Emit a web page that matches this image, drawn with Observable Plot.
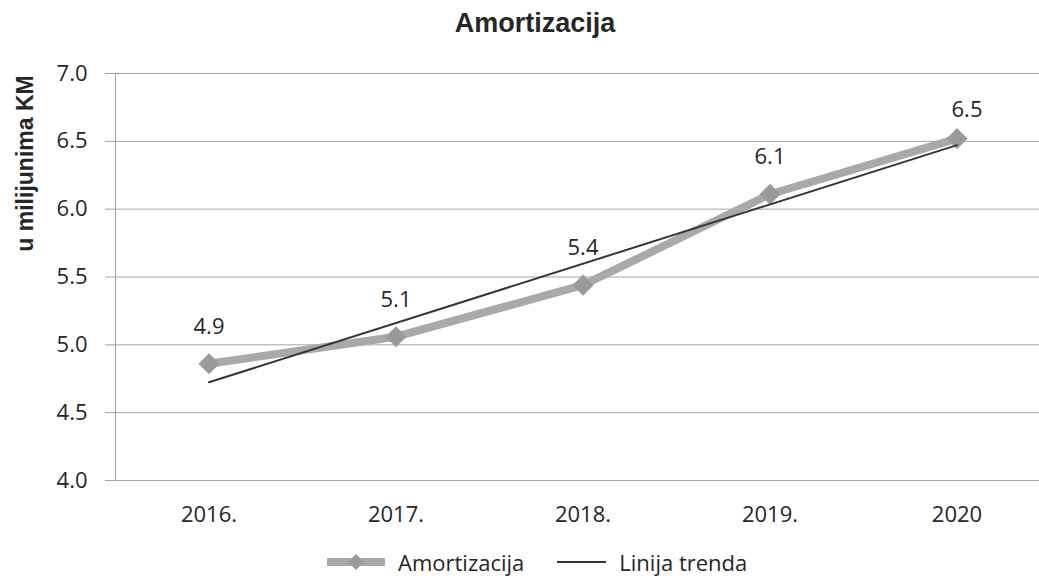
<!DOCTYPE html>
<html>
<head>
<meta charset="utf-8">
<script src="https://cdn.jsdelivr.net/npm/d3@7"></script>
<script src="https://cdn.jsdelivr.net/npm/@observablehq/plot@0.6"></script>
<style>
  html, body { margin: 0; padding: 0; background: #fff; overflow: hidden; }
  #wrap { position: relative; width: 1039px; height: 579px; overflow: hidden; }
  #title { position: absolute; left: 0; top: 7px; width: 1070px; text-align: center;
           font: bold 27px "Liberation Sans", Arial, sans-serif; line-height: 32px; color: #262626; }
  #chart { position: absolute; left: 0; top: 50px; }
  #legend { position: absolute; left: 327px; top: 550px; height: 24px; display: flex; align-items: center;
            font: 22px "Open Sans", sans-serif; line-height: 24px; color: #262626; white-space: nowrap; }
  #legend svg { display: block; }
</style>
</head>
<body>
<div id="wrap">
  <div id="title">Amortizacija</div>
  <div id="chart"></div>
  <div id="legend"></div>
</div>
<script>
const title = "Amortizacija";
const yLabel = "u milijunima KM";
const years = ["2016.", "2017.", "2018.", "2019.", "2020"];
const values = [4.86, 5.06, 5.44, 6.11, 6.52];
const yTicks = [4.0, 4.5, 5.0, 5.5, 6.0, 6.5, 7.0];
const seriesName = "Amortizacija";
const trendName = "Linija trenda";

const rows = years.map((year, i) => ({i, year, value: values[i]}));
const idx = years.map((_, i) => i);
const fmt = d3.format(".1f");

const gridColor = "#a3a3a3";
const lineColor = "#a9a9a9";
const markerColor = "#9a9a9a";
const trendColor = "#353535";

const plot = Plot.plot({
  width: 1039,
  height: 480,
  marginTop: 23,
  marginBottom: 50,
  marginLeft: 115,
  marginRight: 0,
  style: {fontFamily: "'Open Sans', sans-serif", fontSize: "22px", color: "#262626", background: "transparent"},
  x: {type: "linear", domain: [-0.5, years.length - 0.5], range: [115, 1050]},
  y: {domain: [4, 7]},
  marks: [
    Plot.ruleY(yTicks, {stroke: gridColor, strokeWidth: 1, insetLeft: -10}),
    Plot.ruleX([-0.5], {stroke: gridColor, strokeWidth: 1}),
    Plot.axisY({ticks: yTicks, tickFormat: fmt, tickSize: 0, tickPadding: 28, label: null}),
    Plot.axisX({ticks: idx, tickFormat: i => years[i], tickSize: 0, tickPadding: 26, label: null}),
    Plot.lineY(rows, {x: "i", y: "value", stroke: lineColor, strokeWidth: 8, strokeLinejoin: "round"}),
    Plot.dot(rows, {x: "i", y: "value", symbol: "diamond2", r: 9.5, fill: markerColor, stroke: null}),
    Plot.linearRegressionY(rows, {x: "i", y: "value", stroke: trendColor, strokeWidth: 2, ci: 0}),
    Plot.text(rows.slice(0, 4), {x: "i", y: "value", text: d => fmt(d.value), dy: -37, fill: "#262626"}),
    Plot.text(rows.slice(4), {x: "i", y: "value", text: d => fmt(d.value), dx: 10, dy: -29, fill: "#262626"}),
    Plot.text([yLabel], {frameAnchor: "top-left", dx: -90, dy: 90, rotate: -90, textAnchor: "middle", lineAnchor: "middle",
      fontFamily: "'Liberation Sans', Arial, sans-serif", fontWeight: "bold", fontSize: 23, fill: "#262626"})
  ]
});
document.getElementById("chart").appendChild(plot);
document.getElementById("title").textContent = title;

const legend = document.getElementById("legend");
legend.innerHTML = `
  <svg width="58" height="22"><line x1="2" y1="11" x2="56" y2="11" stroke="${lineColor}" stroke-width="8" stroke-linecap="round"/>
    <path d="M29,3 L37,11 L29,19 L21,11 Z" fill="${markerColor}"/></svg>
  <span style="margin-left:13px">${seriesName}</span>
  <svg width="49" height="22" style="margin-left:33px"><line x1="0" y1="11" x2="49" y2="11" stroke="${trendColor}" stroke-width="2"/></svg>
  <span style="margin-left:13px">${trendName}</span>`;
</script>
</body>
</html>
